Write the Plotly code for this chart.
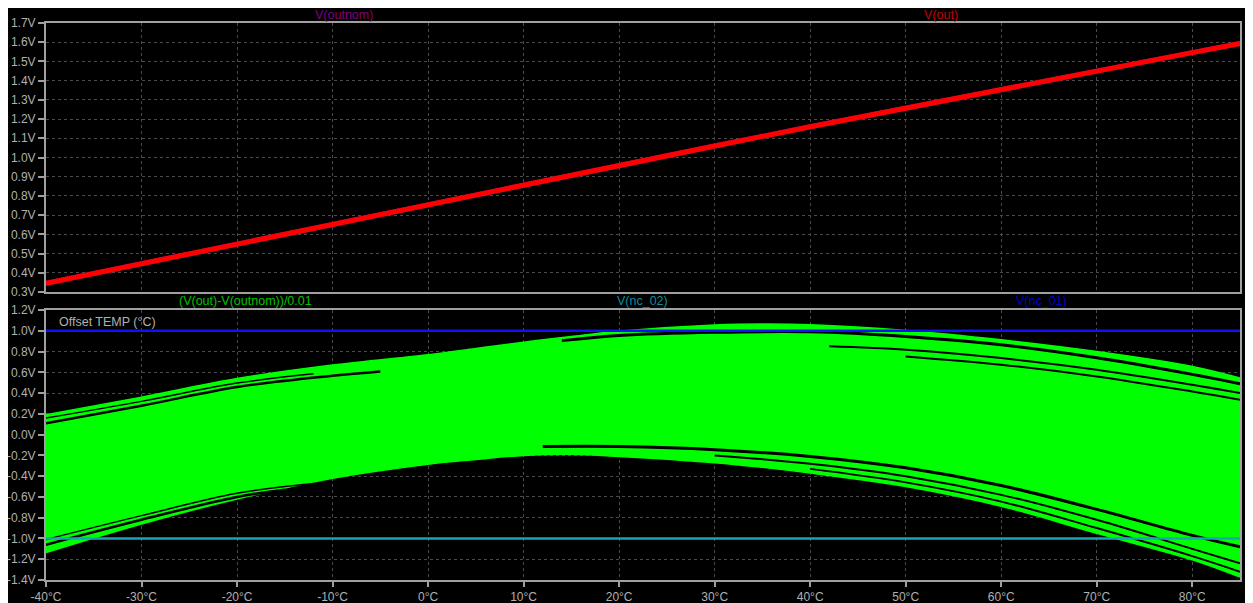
import plotly.graph_objects as go

# ---------------- data ----------------
temp_ticks = [-40, -30, -20, -10, 0, 10, 20, 30, 40, 50, 60, 70, 80]
temp_tick_labels = ["-40°C", "-30°C", "-20°C", "-10°C", "0°C", "10°C", "20°C",
                    "30°C", "40°C", "50°C", "60°C", "70°C", "80°C"]
top_y_ticks = [0.3, 0.4, 0.5, 0.6, 0.7, 0.8, 0.9, 1.0, 1.1, 1.2, 1.3, 1.4, 1.5, 1.6, 1.7]
top_y_labels = ["0.3V", "0.4V", "0.5V", "0.6V", "0.7V", "0.8V", "0.9V", "1.0V",
                "1.1V", "1.2V", "1.3V", "1.4V", "1.5V", "1.6V", "1.7V"]
bot_y_ticks = [-1.4, -1.2, -1.0, -0.8, -0.6, -0.4, -0.2, 0.0, 0.2, 0.4, 0.6, 0.8, 1.0, 1.2]
bot_y_labels = ["-1.4V", "-1.2V", "-1.0V", "-0.8V", "-0.6V", "-0.4V", "-0.2V",
                "0.0V", "0.2V", "0.4V", "0.6V", "0.8V", "1.0V", "1.2V"]

# V(out) / V(outnom)
temp_out = [-40, -30, -20, -10, 0, 10, 20, 30, 40, 50, 60, 70, 80, 85]
v_out = [0.345, 0.448, 0.550, 0.652, 0.755, 0.858, 0.960, 1.060, 1.160,
         1.258, 1.356, 1.452, 1.546, 1.594]
v_outnom = [0.345, 0.448, 0.550, 0.652, 0.755, 0.858, 0.960, 1.060, 1.160,
            1.258, 1.356, 1.452, 1.546, 1.594]

# Monte-Carlo offset band (V(out)-V(outnom))/0.01 : envelope
temp_env = [-40, -30, -20, -10, 0, 5, 10, 15, 20, 30, 35, 40, 50, 60, 70, 80, 85]
offset_upper = [0.19, 0.36, 0.54, 0.67, 0.77, 0.83, 0.89, 0.945, 0.995, 1.055,
                1.065, 1.058, 1.003, 0.913, 0.80, 0.656, 0.545]
offset_lower = [-1.135, -0.86, -0.62, -0.42, -0.285, -0.24, -0.20, -0.19, -0.21,
                -0.27, -0.315, -0.37, -0.50, -0.69, -0.95, -1.205, -1.372]

# dark gaps between individual runs
gapA1_t = [-40, -30, -20, -12]
gapA1_v = [0.159, 0.32, 0.496, 0.586]
gapA2_t = [-40, -30, -20, -10, -5]
gapA2_v = [0.11, 0.278, 0.458, 0.567, 0.608]
gapB1_t = [-40, -30, -20, -15]
gapB1_v = [-1.06, -0.82, -0.60, -0.53]
gapB2_t = [-40, -30, -20, -12]
gapB2_v = [-1.01, -0.78, -0.565, -0.47]
gapC1_t = [12, 20, 30, 40, 50, 60, 70, 80, 85]
gapC1_v = [-0.115, -0.115, -0.145, -0.21, -0.32, -0.49, -0.72, -0.97, -1.08]
gapC2_t = [30, 40, 50, 60, 70, 80, 85]
gapC2_v = [-0.20, -0.28, -0.40, -0.58, -0.82, -1.10, -1.24]
gapC3_t = [40, 50, 60, 70, 80, 85]
gapC3_v = [-0.33, -0.46, -0.645, -0.90, -1.17, -1.32]
gapD1_t = [14, 20, 30, 40, 50, 60, 70, 80, 85]
gapD1_v = [0.905, 0.955, 0.985, 0.99, 0.945, 0.865, 0.74, 0.58, 0.49]
gapD2_t = [42, 50, 60, 70, 80, 85]
gapD2_v = [0.85, 0.817, 0.737, 0.625, 0.48, 0.40]
gapD3_t = [50, 60, 70, 80, 85]
gapD3_v = [0.753, 0.673, 0.56, 0.415, 0.336]

# limit lines
temp_lim = [-40, 85]
v_nc_01 = [1.0, 1.0]
v_nc_02 = [-1.0, -1.0]

# ---------------- figure ----------------
# page body has an 8px default margin, so the figure sits at (8, 8)
OFF = 8
W, H = 1253 - OFF, 603 - OFF
ML, MR, MT, MB = 46 - OFF, 13, 23 - OFF, 23
PW, PH = W - ML - MR, H - MT - MB


def py(pix):
    return 1 - (pix - OFF - MT) / PH


def px(pix):
    return (pix - OFF - ML) / PW


GRID = "#4a4a4a"
FRAME = "#a0a0a0"
TXT = "#b0b0b0"
FONT = "Liberation Sans, Arial, sans-serif"

fig = go.Figure()

fig.add_trace(go.Scatter(x=temp_out, y=v_outnom, mode="lines",
                         line=dict(color="#800080", width=5), xaxis="x", yaxis="y"))
fig.add_trace(go.Scatter(x=temp_out, y=v_out, mode="lines",
                         line=dict(color="#ff0000", width=5), xaxis="x", yaxis="y"))

GREEN = "#00ff00"
fig.add_trace(go.Scatter(x=temp_env, y=offset_upper, mode="lines",
                         line=dict(color=GREEN, width=1.5, shape="spline"),
                         xaxis="x2", yaxis="y2"))
fig.add_trace(go.Scatter(x=temp_env, y=offset_lower, mode="lines",
                         line=dict(color=GREEN, width=1.5, shape="spline"),
                         fill="tonexty", fillcolor=GREEN, xaxis="x2", yaxis="y2"))

gaps = [(gapA1_t, gapA1_v, 1.5), (gapA2_t, gapA2_v, 2.5), (gapB1_t, gapB1_v, 2.5),
        (gapB2_t, gapB2_v, 1.5), (gapC1_t, gapC1_v, 3), (gapC2_t, gapC2_v, 2),
        (gapC3_t, gapC3_v, 2), (gapD1_t, gapD1_v, 3), (gapD2_t, gapD2_v, 2),
        (gapD3_t, gapD3_v, 2)]
for gt, gv, gw in gaps:
    fig.add_trace(go.Scatter(x=gt, y=gv, mode="lines",
                             line=dict(color="black", width=gw, shape="spline"),
                             xaxis="x2", yaxis="y2"))

fig.add_trace(go.Scatter(x=temp_lim, y=v_nc_01, mode="lines",
                         line=dict(color="#1010ff", width=2.5), xaxis="x2", yaxis="y2"))
fig.add_trace(go.Scatter(x=temp_lim, y=v_nc_02, mode="lines",
                         line=dict(color="#1aa5b5", width=2.5), xaxis="x2", yaxis="y2"))

axis_common = dict(showline=True, linecolor=FRAME, linewidth=2, mirror=True,
                   showgrid=True, gridcolor=GRID, griddash="dot", gridwidth=1,
                   zeroline=False, automargin=False,
                   tickfont=dict(color=TXT, size=12, family=FONT),
                   tickcolor=FRAME, tickwidth=2)

top_dom = [py(292), 1.0]
bot_dom = [0.0, py(310)]

fig.update_layout(
    width=W, height=H, autosize=False,
    margin=dict(l=ML, r=MR, t=MT, b=MB, pad=0),
    paper_bgcolor="black", plot_bgcolor="black",
    showlegend=False, hovermode=False,
    xaxis=dict(range=[-40, 85], domain=[0, 1], anchor="y", tickvals=temp_ticks,
               showticklabels=False, ticks="", **axis_common),
    yaxis=dict(range=[0.3, 1.7], domain=top_dom, anchor="x", tickvals=top_y_ticks,
               ticktext=top_y_labels, ticks="outside", ticklen=6, **axis_common),
    xaxis2=dict(range=[-40, 85], domain=[0, 1], anchor="y2", tickvals=temp_ticks,
                ticktext=temp_tick_labels, ticks="outside", ticklen=5, **axis_common),
    yaxis2=dict(range=[-1.4, 1.2], domain=bot_dom, anchor="x2", tickvals=bot_y_ticks,
                ticktext=bot_y_labels, ticks="outside", ticklen=6, **axis_common),
)

labels = [("V(outnom)", 344, 15, "#800080"),
          ("V(out)", 941, 15, "#c80000"),
          ("(V(out)-V(outnom))/0.01", 245, 301, "#00c000"),
          ("V(nc_02)", 642, 301, "#0a8c9c"),
          ("V(nc_01)", 1041, 301, "#0000c8")]
for txt, cx, cy, col in labels:
    fig.add_annotation(text=txt, x=px(cx), y=py(cy), xref="paper", yref="paper",
                       showarrow=False, xanchor="center", yanchor="middle",
                       font=dict(color=col, size=12.5, family=FONT))

fig.add_annotation(text="Offset TEMP (°C)", x=px(57), y=py(322), xref="paper",
                   yref="paper", showarrow=False, xanchor="left", yanchor="middle",
                   font=dict(color=TXT, size=12.5, family=FONT))

fig.write_html("out.html", config={"displayModeBar": False})
